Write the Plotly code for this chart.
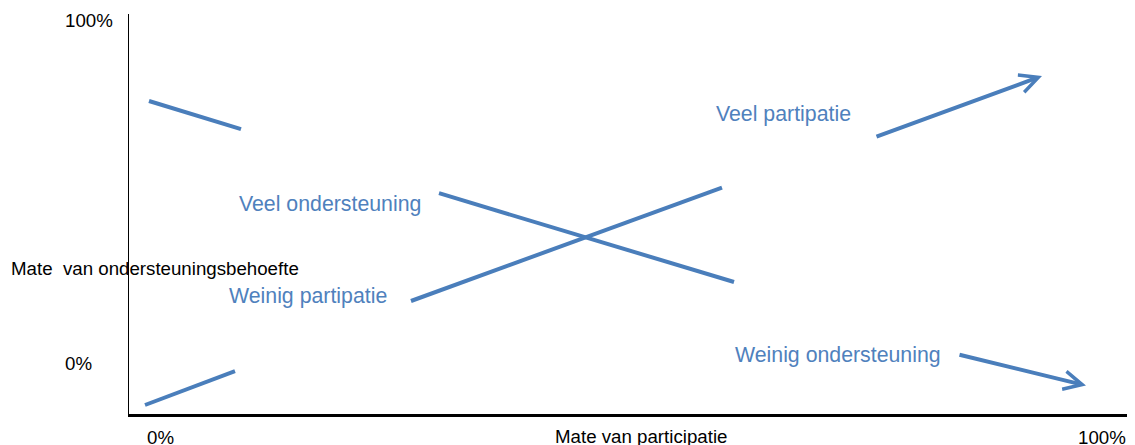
import plotly.graph_objects as go

# ---- data (x: 0..100 "Mate van participatie", y: 0..100 "Mate van ondersteuningsbehoefte") ----
seg_x0 = [2.0, 1.6, 31.0, 28.2]
seg_y0 = [78.25, 2.25, 55.2, 28.25]
seg_x1 = [11.2, 10.6, 60.5, 59.3]
seg_y1 = [71.2, 10.7, 33.0, 56.6]

arr_x0 = [74.6, 82.9]
arr_y0 = [69.2, 14.9]
arr_x1 = [91.3, 95.7]
arr_y1 = [84.5, 7.1]

blue_labels = ["Veel ondersteuning", "Weinig partipatie", "Veel partipatie", "Weinig ondersteuning"]
blue_x = [10.8, 9.8, 58.5, 60.4]
blue_y = [52.5, 29.4, 75.0, 14.75]

black_labels = ["100%", "0%", "0%", "100%", "Mate van participatie", "Mate\u00a0 van ondersteuningsbehoefte"]
black_x = [-1.4, -3.5, 3.15, 97.25, 51.2, -12.0]
black_y = [98.5, 12.75, -5.75, -5.75, -5.5, 36.5]
black_xanchor = ["right", "right", "center", "center", "center", "left"]

XMAX, YMAX = 100.6, 100.0
LINE = "#4a7ebb"
TEXT_BLUE = "#4f81bd"
FONT = "Liberation Sans, Arial, sans-serif"

fig = go.Figure()
for x0, y0, x1, y1 in zip(seg_x0, seg_y0, seg_x1, seg_y1):
    fig.add_trace(go.Scatter(x=[x0, x1], y=[y0, y1], mode="lines",
                             line=dict(color=LINE, width=4), hoverinfo="skip",
                             showlegend=False))

for x0, y0, x1, y1 in zip(arr_x0, arr_y0, arr_x1, arr_y1):
    fig.add_annotation(x=x1, y=y1, ax=x0, ay=y0, xref="x", yref="y",
                       axref="x", ayref="y", text="", showarrow=True,
                       arrowhead=5, arrowsize=0.9, arrowwidth=4,
                       arrowcolor=LINE, standoff=0)

for t, x, y in zip(blue_labels, blue_x, blue_y):
    fig.add_annotation(x=x, y=y, xref="x", yref="y", text=t, showarrow=False,
                       xanchor="left", yanchor="middle",
                       font=dict(family=FONT, size=21.3, color=TEXT_BLUE))

for t, x, y, xa in zip(black_labels, black_x, black_y, black_xanchor):
    fig.add_annotation(x=x / XMAX, y=y / YMAX, xref="paper", yref="paper", text=t,
                       showarrow=False, xanchor=xa, yanchor="middle",
                       font=dict(family=FONT, size=18.7, color="black"))

fig.update_xaxes(range=[0, XMAX], showgrid=False, zeroline=False, showticklabels=False,
                 ticks="", showline=True, linewidth=3, linecolor="black")
fig.update_yaxes(range=[0, YMAX], showgrid=False, zeroline=False, showticklabels=False,
                 ticks="", showline=True, linewidth=1.3, linecolor="black")
# page body adds an 8px offset; figure sized so it fits the window exactly,
# plot area at page x 129..1135, y 14..414
fig.update_layout(width=1127, height=437, margin=dict(l=121, r=0, t=6, b=31),
                  paper_bgcolor="white", plot_bgcolor="white", showlegend=False)

fig.write_html("out.html")
